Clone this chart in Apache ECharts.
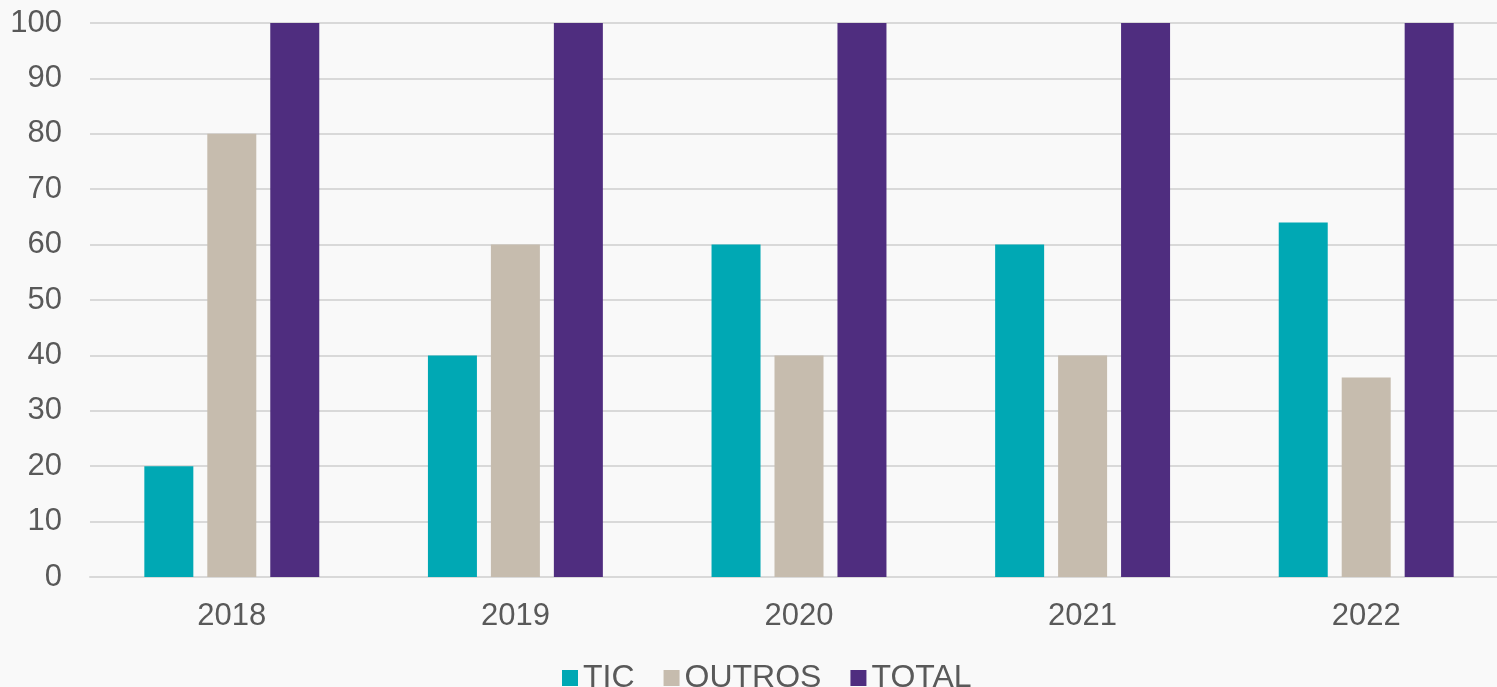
<!DOCTYPE html>
<html>
<head>
<meta charset="utf-8">
<script src="https://cdn.jsdelivr.net/npm/echarts@6/dist/echarts.min.js"></script>
<style>
  html, body { margin: 0; padding: 0; background: #f9f9f9; overflow: hidden; }
  /* the reference's plot runs a little past the right edge, so the canvas is wider than the window */
  #chart { width: 1508px; height: 687px; }
</style>
</head>
<body>
<div id="chart"></div>
<script>
const years = ["2018", "2019", "2020", "2021", "2022"];
const tic = [20, 40, 60, 60, 64];
const outros = [80, 60, 40, 40, 36];
const total = [100, 100, 100, 100, 100];

const chart = echarts.init(document.getElementById("chart"));
const font = "'Liberation Sans', Arial, sans-serif";

chart.setOption({
  backgroundColor: "#f9f9f9",
  animation: false,
  textStyle: { fontFamily: font },
  legend: {
    data: ["TIC", "OUTROS", "TOTAL"],
    top: 657,
    left: 557,
    itemWidth: 16,
    itemHeight: 16,
    itemGap: 29,
    icon: "rect",
    textStyle: { fontSize: 32, color: "#595959", fontFamily: font },
  },
  grid: {
    left: 90,
    top: 23,
    right: 0,
    bottom: 110,
    containLabel: false,
  },
  xAxis: {
    type: "category",
    data: years,
    axisLine: { show: true, lineStyle: { color: "#d9d9d9", width: 2 } },
    axisTick: { show: false },
    axisLabel: { fontSize: 31, color: "#595959", margin: 24 },
  },
  yAxis: {
    type: "value",
    min: 0,
    max: 100,
    interval: 10,
    axisLine: { show: false },
    axisTick: { show: false },
    axisLabel: { fontSize: 31, color: "#595959", margin: 28 },
    splitLine: { lineStyle: { color: "#d9d9d9", width: 2 } },
  },
  series: [
    {
      name: "TIC",
      type: "bar",
      data: tic,
      barWidth: 49,
      barGap: "28.5%",
      itemStyle: { color: "#00a8b4" },
    },
    {
      name: "OUTROS",
      type: "bar",
      data: outros,
      barWidth: 49,
      barGap: "28.5%",
      itemStyle: { color: "#c6bcae" },
    },
    {
      name: "TOTAL",
      type: "bar",
      data: total,
      barWidth: 49,
      barGap: "28.5%",
      itemStyle: { color: "#4f2d7f" },
    },
  ],
});
</script>
</body>
</html>
